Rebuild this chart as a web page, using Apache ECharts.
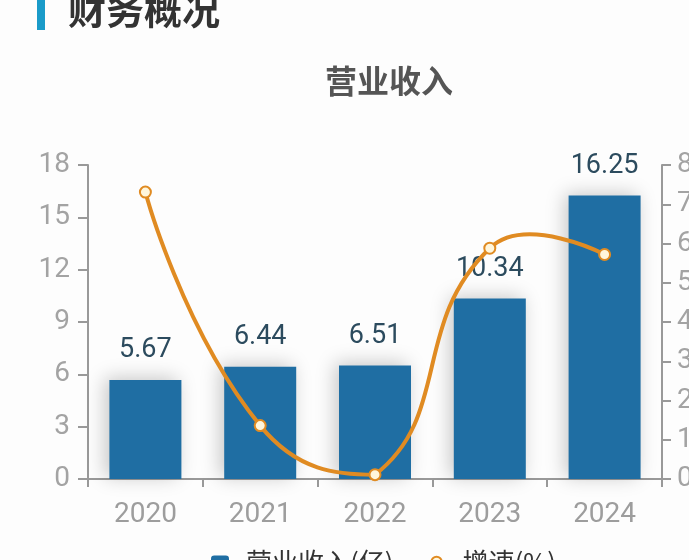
<!DOCTYPE html>
<html>
<head>
<meta charset="utf-8">
<script src="https://cdn.jsdelivr.net/npm/echarts@6/dist/echarts.min.js"></script>
<style>
  html, body { margin: 0; padding: 0; background: #fdfdfd; }
  #main { width: 689px; height: 560px; }
</style>
</head>
<body>
<div id="main"></div>
<script>
// 数据
const years = ['2020', '2021', '2022', '2023', '2024'];
const revenue = [5.67, 6.44, 6.51, 10.34, 16.25];   // 营业收入(亿)
const growth = [73.1, 13.6, 1.1, 58.8, 57.2];        // 增速(%)

const chart = echarts.init(document.getElementById('main'), null, { renderer: 'canvas' });

const font = 'Roboto, "Noto Sans CJK SC", sans-serif';
const cjk = '"Noto Sans CJK SC", sans-serif';
const orange = '#e08b22';

// 老版本 echarts 的平滑方式：控制点只限制在整体包围盒内，所以 2023-2024 之间会上冲
function renderCurve(params, api) {
  if (params.dataIndex !== 0) return;
  const smooth = 0.5;
  const pts = growth.map((v, i) => api.coord([i, v]));
  const minX = Math.min(...pts.map(p => p[0])), maxX = Math.max(...pts.map(p => p[0]));
  const minY = Math.min(...pts.map(p => p[1])), maxY = Math.max(...pts.map(p => p[1]));
  const clamp = c => [Math.min(Math.max(c[0], minX), maxX), Math.min(Math.max(c[1], minY), maxY)];
  const dist = (a, b) => Math.hypot(a[0] - b[0], a[1] - b[1]);

  let d = 'M' + pts[0][0] + ' ' + pts[0][1];
  let cp0 = pts[0].slice();
  for (let i = 1; i < pts.length; i++) {
    const p = pts[i], prev = pts[i - 1], next = pts[i + 1];
    let cp1, nextCp0;
    if (!next) {
      cp1 = p.slice();
      nextCp0 = p.slice();
    } else {
      const v = [next[0] - prev[0], next[1] - prev[1]];
      const lp = dist(p, prev), ln = dist(p, next);
      const r = ln / (ln + lp);
      cp1 = [p[0] - v[0] * smooth * (1 - r), p[1] - v[1] * smooth * (1 - r)];
      nextCp0 = [p[0] + v[0] * smooth * r, p[1] + v[1] * smooth * r];
    }
    const a = clamp(cp0), b = clamp(cp1);
    d += ' C' + a[0] + ' ' + a[1] + ' ' + b[0] + ' ' + b[1] + ' ' + p[0] + ' ' + p[1];
    cp0 = nextCp0;
  }
  return {
    type: 'path',
    shape: { pathData: d },
    style: { stroke: orange, lineWidth: 4, fill: null, lineCap: 'round', lineJoin: 'round' }
  };
}

const option = {
  backgroundColor: '#fdfdfd',
  textStyle: { fontFamily: font },
  title: {
    text: '营业收入',
    left: 384,
    textAlign: 'center',
    top: 60,
    textStyle: { fontSize: 32, fontWeight: 'bold', color: '#555', fontFamily: cjk }
  },
  graphic: [
    { type: 'rect', shape: { x: 37, y: 0, width: 8, height: 30 }, style: { fill: '#1a9bc9' } },
    {
      type: 'text', left: 68, top: -9,
      style: { text: '财务概况', fontSize: 38, fontWeight: 'bold', fill: '#333', fontFamily: cjk }
    }
  ],
  legend: {
    left: 206,
    top: 544,
    itemGap: 32,
    itemWidth: 18,
    itemHeight: 13,
    textStyle: { fontSize: 26, color: '#333', fontFamily: cjk, padding: [0, 0, 0, 12] },
    data: [
      { name: '营业收入(亿)' },
      { name: '增速(%)', lineStyle: { opacity: 1, width: 4, color: orange } }
    ]
  },
  grid: { left: 88, right: 27, top: 165, bottom: 81, containLabel: false, outerBoundsMode: 'none' },
  xAxis: {
    type: 'category',
    data: years,
    axisLine: { lineStyle: { color: '#999', width: 2 } },
    axisTick: { show: true, length: 8, lineStyle: { color: '#999', width: 2 } },
    axisLabel: { fontSize: 28, color: '#9d9d9d', margin: 22 }
  },
  yAxis: [
    {
      type: 'value', min: 0, max: 18, interval: 3,
      axisLine: { show: true, lineStyle: { color: '#999', width: 2 } },
      axisTick: { show: true, length: 10, lineStyle: { color: '#999', width: 2 } },
      axisLabel: { fontSize: 28, color: '#a3a3a3', margin: 18 },
      splitLine: { show: false }
    },
    {
      type: 'value', min: 0, max: 80, interval: 10,
      axisLine: { show: true, lineStyle: { color: '#999', width: 2 } },
      axisTick: { show: true, length: 9, lineStyle: { color: '#999', width: 2 } },
      axisLabel: { fontSize: 28, color: '#a3a3a3', margin: 15 },
      splitLine: { show: false }
    }
  ],
  series: [
    {
      name: '营业收入(亿)',
      type: 'bar',
      data: revenue,
      barWidth: 72,
      itemStyle: {
        color: '#1f6ea3',
        shadowBlur: 18,
        shadowColor: 'rgba(0,0,0,0.22)',
        shadowOffsetX: -4,
        shadowOffsetY: -2
      },
      label: {
        show: true, position: 'top', distance: 16,
        fontSize: 27, color: '#2c4b5e',
        formatter: p => p.value.toFixed(2)
      }
    },
    {
      type: 'custom',
      yAxisIndex: 1,
      data: growth.map((v, i) => [i, v]),
      encode: { x: 0, y: 1 },
      renderItem: renderCurve,
      silent: true,
      z: 4
    },
    {
      name: '增速(%)',
      type: 'line',
      yAxisIndex: 1,
      data: growth,
      symbol: 'circle',
      symbolSize: 11,
      z: 5,
      lineStyle: { color: orange, width: 4, opacity: 0 },
      itemStyle: { color: '#fff6dc', borderColor: orange, borderWidth: 2 }
    }
  ]
};

chart.setOption(option);
</script>
</body>
</html>
